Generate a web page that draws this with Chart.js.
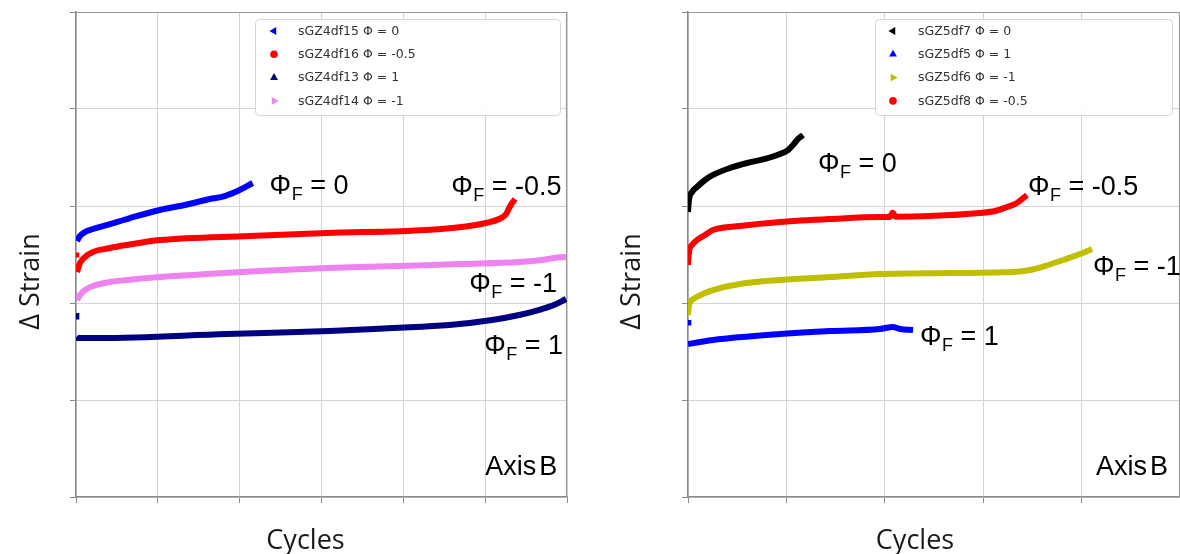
<!DOCTYPE html>
<html><head><meta charset="utf-8">
<script src="https://cdn.jsdelivr.net/npm/chart.js@4/dist/chart.umd.min.js"></script>
<style>
html,body{margin:0;padding:0;background:#fff;overflow:hidden;}
#wrapL{position:absolute;left:0;top:0;width:600px;height:554px;}
#wrapR{position:absolute;left:600px;top:0;width:580px;height:554px;}
</style></head><body>
<div id="wrapL"><canvas id="cL" width="600" height="554"></canvas></div>
<div id="wrapR"><canvas id="cR" width="580" height="554"></canvas></div>
<script>
// ---------- Left panel data (Axis B, sGZ4 series) ----------
const xTicksLeft = [0, 1, 2, 3, 4, 5, 6];
const yTicks = [0, 1, 2, 3, 4, 5];

const sGZ4df15_x = [0.012, 0.049, 0.110, 0.207, 0.415, 0.659, 1.024, 1.329, 1.634, 1.817, 2.000, 2.159];
const sGZ4df15_y = [2.639, 2.691, 2.732, 2.763, 2.814, 2.876, 2.959, 3.010, 3.072, 3.103, 3.165, 3.237];

const sGZ4df16_x = [0.003, 0.003, 0.004, 0.012, 0.049, 0.110, 0.207, 0.415, 0.622, 1.024, 2.122, 3.061, 4.280, 4.805, 5.012, 5.171, 5.256, 5.293, 5.329, 5.366];
const sGZ4df16_y = [2.520, 2.470, null, 2.320, 2.412, 2.474, 2.526, 2.567, 2.598, 2.649, 2.691, 2.722, 2.753, 2.794, 2.825, 2.866, 2.918, 2.979, 3.031, 3.072];

const sGZ4df13_x = [0.004, 0.004, 0.005, 0.007, 0.024, 0.293, 1.841, 3.098, 3.866, 4.561, 5.085, 5.415, 5.695, 5.841, 5.988];
const sGZ4df13_y = [1.897, 1.830, null, 1.650, 1.639, 1.639, 1.680, 1.711, 1.742, 1.773, 1.825, 1.876, 1.938, 1.979, 2.041];

const sGZ4df14_x = [0.012, 0.049, 0.110, 0.207, 0.415, 0.622, 1.024, 1.427, 2.244, 3.061, 3.951, 4.683, 5.415, 5.695, 5.841, 5.988];
const sGZ4df14_y = [2.031, 2.082, 2.134, 2.175, 2.216, 2.237, 2.268, 2.289, 2.330, 2.361, 2.381, 2.402, 2.423, 2.443, 2.464, 2.474];

// ---------- Right panel data (Axis B, sGZ5 series) ----------
const xTicksRight = [0, 1, 2, 3, 4, 5];

const sGZ5df7_x = [0.000, 0.010, 0.041, 0.091, 0.173, 0.254, 0.427, 0.600, 0.783, 0.935, 1.016, 1.067, 1.118, 1.169];
const sGZ5df7_y = [2.938, 3.062, 3.144, 3.196, 3.268, 3.320, 3.392, 3.443, 3.485, 3.536, 3.577, 3.629, 3.691, 3.732];

const sGZ5df5_x = [0.003, 0.003, 0.004, 0.000, 0.122, 0.254, 0.935, 1.443, 1.951, 2.083, 2.154, 2.287];
const sGZ5df5_y = [1.825, 1.767, null, 1.577, 1.598, 1.619, 1.680, 1.711, 1.732, 1.753, 1.732, 1.722];

const sGZ5df6_x = [0.000, 0.010, 0.041, 0.091, 0.173, 0.254, 0.528, 0.935, 1.443, 1.951, 2.663, 3.303, 3.476, 3.628, 3.811, 3.984, 4.106];
const sGZ5df6_y = [1.876, 1.979, 2.031, 2.062, 2.103, 2.134, 2.196, 2.237, 2.268, 2.299, 2.309, 2.320, 2.340, 2.381, 2.443, 2.505, 2.557];

const sGZ5df8_x = [0.000, 0.010, 0.041, 0.091, 0.173, 0.254, 0.528, 0.935, 1.443, 1.951, 2.050, 2.080, 2.110, 2.459, 2.967, 3.120, 3.242, 3.343, 3.445];
const sGZ5df8_y = [2.392, 2.526, 2.598, 2.649, 2.701, 2.753, 2.794, 2.835, 2.866, 2.887, 2.887, 2.930, 2.890, 2.897, 2.928, 2.948, 2.990, 3.031, 3.113];

// ---------- labels ----------
const leftSeriesLabels = ['sGZ4df15 Φ = 0', 'sGZ4df16 Φ = -0.5', 'sGZ4df13 Φ = 1', 'sGZ4df14 Φ = -1'];
const rightSeriesLabels = ['sGZ5df7 Φ = 0', 'sGZ5df5 Φ = 1', 'sGZ5df6 Φ = -1', 'sGZ5df8 Φ = -0.5'];
const xAxisTitle = 'Cycles';
const yAxisTitle = 'Δ Strain';
const panelTag = 'Axis B';
// curve annotations: [phi value text, x, y] in data units
const leftNotes = [['0', 2.366, 3.124], ['-0.5', 4.585, 3.113], ['-1', 4.805, 2.113], ['1', 4.988, 1.474]];
const rightNotes = [['0', 1.321, 3.350], ['-0.5', 3.455, 3.113], ['-1', 4.116, 2.289], ['1', 2.358, 1.567]];

function pts(xs, ys) { return xs.map((x, i) => ({x: x, y: ys[i]})); }

function series(label, xs, ys, color, marker) {
  return {
    label: label, data: pts(xs, ys), showLine: true, borderColor: color, backgroundColor: color,
    borderWidth: 6, pointRadius: 0, tension: 0.35, cubicInterpolationMode: 'monotone',
    spanGaps: false, marker: marker
  };
}

function drawMarker(ctx, kind, x, y, r, color) {
  ctx.save();
  ctx.fillStyle = color;
  ctx.beginPath();
  if (kind === 'circle') {
    ctx.arc(x, y, r, 0, Math.PI * 2);
  } else {
    let a = -Math.PI / 2;
    if (kind === 'left') a = Math.PI;
    if (kind === 'right') a = 0;
    for (let k = 0; k < 3; k++) {
      const t = a + k * 2 * Math.PI / 3;
      const px = x + r * 1.2 * Math.cos(t), py = y + r * 1.2 * Math.sin(t);
      if (k === 0) ctx.moveTo(px, py); else ctx.lineTo(px, py);
    }
    ctx.closePath();
  }
  ctx.fill();
  ctx.restore();
}

function roundRect(ctx, x, y, w, h, r) {
  ctx.beginPath();
  ctx.moveTo(x + r, y);
  ctx.lineTo(x + w - r, y); ctx.arcTo(x + w, y, x + w, y + r, r);
  ctx.lineTo(x + w, y + h - r); ctx.arcTo(x + w, y + h, x + w - r, y + h, r);
  ctx.lineTo(x + r, y + h); ctx.arcTo(x, y + h, x, y + h - r, r);
  ctx.lineTo(x, y + r); ctx.arcTo(x, y, x + r, y, r);
  ctx.closePath();
}

const framePlugin = {
  id: 'frame',
  beforeDatasetsDraw(chart) {
    const {ctx, chartArea: a} = chart;
    ctx.save();
    ctx.strokeStyle = '#9a9a9a';
    ctx.lineWidth = 1.2;
    ctx.beginPath();
    ctx.moveTo(a.left, a.top + 0.5); ctx.lineTo(a.right, a.top + 0.5);
    ctx.moveTo(a.right - 0.5, a.top); ctx.lineTo(a.right - 0.5, a.bottom);
    ctx.stroke();
    ctx.restore();
  }
};

const textPlugin = {
  id: 'texts',
  afterDraw(chart, args, opts) {
    const {ctx, chartArea: a, scales} = chart;
    ctx.save();
    // legend box
    const L = opts.legend;
    ctx.fillStyle = 'rgba(255,255,255,0.9)';
    ctx.strokeStyle = '#d6d6d6';
    ctx.lineWidth = 1;
    roundRect(ctx, L.x + 0.5, L.y + 0.5, L.w, L.h, 4);
    ctx.fill(); ctx.stroke();
    ctx.font = '12.5px "DejaVu Sans"';
    ctx.textBaseline = 'middle';
    ctx.textAlign = 'left';
    chart.data.datasets.forEach((ds, i) => {
      const yy = L.y + 12 + i * 23.3;
      drawMarker(ctx, ds.marker, L.x + L.mx, yy, 3.8, ds.borderColor);
      ctx.fillStyle = '#333';
      ctx.fillText(ds.label, L.x + L.tx, yy + 0.5);
    });
    // curve notes Φ_F = v
    ctx.fillStyle = '#000';
    ctx.textBaseline = 'alphabetic';
    opts.notes.forEach(n => {
      let x = scales.x.getPixelForValue(n[1]);
      const y = scales.y.getPixelForValue(n[2]);
      ctx.font = '27px "Liberation Sans"';
      ctx.fillText('Φ', x, y);
      x += ctx.measureText('Φ').width;
      ctx.font = '18px "Liberation Sans"';
      ctx.fillText('F', x + 0.5, y + 6);
      x += ctx.measureText('F').width + 0.5;
      ctx.font = '27px "Liberation Sans"';
      ctx.fillText(' = ' + n[0], x, y);
    });
    // panel tag
    ctx.font = '27px "Liberation Sans"';
    const tx = scales.x.getPixelForValue(opts.tag[0]), ty = scales.y.getPixelForValue(opts.tag[1]);
    ctx.fillText('Axis', tx, ty);
    ctx.fillText('B', tx + ctx.measureText('Axis').width + 3, ty);
    // axis titles
    ctx.fillStyle = '#1a1a1a';
    ctx.font = '27px "Open Sans"';
    ctx.textAlign = 'center';
    ctx.textBaseline = 'middle';
    ctx.fillText(xAxisTitle, (a.left + a.right) / 2 + opts.xTitleShift, 541);
    ctx.translate(a.left - opts.yTitleGap, (a.top + a.bottom) / 2 + 27);
    ctx.rotate(-Math.PI / 2);
    ctx.fillText(yAxisTitle, 0, 0);
    ctx.restore();
  }
};

function scalesFor(xmax, xticks) {
  const grid = {color: '#d4d4d4', lineWidth: 1, tickLength: 6, tickColor: '#8a8a8a', drawTicks: true};
  return {
    x: {type: 'linear', min: 0, max: xmax, afterBuildTicks: s => { s.ticks = xticks.map(v => ({value: v})); },
        ticks: {display: false}, grid: grid, border: {display: true, color: '#8a8a8a', width: 1.5}},
    y: {type: 'linear', min: 0, max: 5, afterBuildTicks: s => { s.ticks = yTicks.map(v => ({value: v})); },
        ticks: {display: false}, grid: grid, border: {display: true, color: '#8a8a8a', width: 1.5}}
  };
}

new Chart(document.getElementById('cL'), {
  type: 'scatter',
  data: {datasets: [
    series(leftSeriesLabels[0], sGZ4df15_x, sGZ4df15_y, '#0000ff', 'left'),
    series(leftSeriesLabels[1], sGZ4df16_x, sGZ4df16_y, '#ff0000', 'circle'),
    series(leftSeriesLabels[2], sGZ4df13_x, sGZ4df13_y, '#000080', 'up'),
    series(leftSeriesLabels[3], sGZ4df14_x, sGZ4df14_y, '#ee82ee', 'right')
  ]},
  options: {
    responsive: false, animation: false, devicePixelRatio: 1,
    layout: {padding: {left: 70, right: 33, top: 12, bottom: 51}},
    scales: scalesFor(6, xTicksLeft),
    plugins: {
      legend: {display: false}, tooltip: {enabled: false},
      texts: {legend: {x: 255, y: 19, w: 305, h: 96, mx: 19, tx: 43}, notes: leftNotes, tag: [5.0, 0.227],
              xTitleShift: -16, yTitleGap: 45}
    }
  },
  plugins: [framePlugin, textPlugin]
});

new Chart(document.getElementById('cR'), {
  type: 'scatter',
  data: {datasets: [
    series(rightSeriesLabels[0], sGZ5df7_x, sGZ5df7_y, '#000000', 'left'),
    series(rightSeriesLabels[1], sGZ5df5_x, sGZ5df5_y, '#0000ff', 'up'),
    series(rightSeriesLabels[2], sGZ5df6_x, sGZ5df6_y, '#bfbf00', 'right'),
    series(rightSeriesLabels[3], sGZ5df8_x, sGZ5df8_y, '#ff0000', 'circle')
  ]},
  options: {
    responsive: false, animation: false, devicePixelRatio: 1,
    layout: {padding: {left: 82, right: 0, top: 12, bottom: 51}},
    scales: scalesFor(5, xTicksRight),
    plugins: {
      legend: {display: false}, tooltip: {enabled: false},
      texts: {legend: {x: 275, y: 19, w: 297, h: 96, mx: 18, tx: 43}, notes: rightNotes, tag: [4.147, 0.227],
              xTitleShift: -19, yTitleGap: 56}
    }
  },
  plugins: [framePlugin, textPlugin]
});
</script>
</body></html>
